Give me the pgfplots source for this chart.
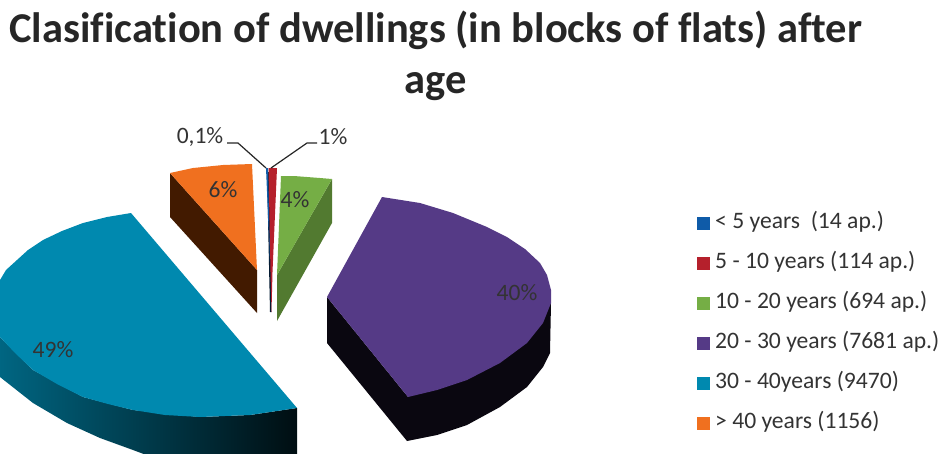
\documentclass[border=0pt]{standalone}
\usepackage{pgfplots}
\pgfplotsset{compat=1.18}
\usepackage{fontspec}
\setmainfont{Carlito}[Ligatures=NoCommon]
\definecolor{cBlue}{HTML}{0F5BA8}
\definecolor{cRed}{HTML}{B5202C}
\definecolor{cGreen}{HTML}{75AE45}
\definecolor{cPurple}{HTML}{553A86}
\definecolor{cTeal}{HTML}{0089AF}
\definecolor{cOrange}{HTML}{F0701F}
\begin{document}
\begin{tikzpicture}
\useasboundingbox (0,0) rectangle (941pt,453pt);
\begin{axis}[
  scale only axis,
  width=941pt, height=453pt,
  xmin=0, xmax=941, ymin=0, ymax=453,
  y dir=reverse,
  hide axis,
  title={Clasification of dwellings (in blocks of flats) after\\age},
  title style={at={(0.463,1)}, anchor=north, yshift=-13pt, align=center,
    font=\fontsize{42.5}{51}\selectfont\bfseries, text=black!85},
  legend cell align=left,
  legend style={at={(axis cs:697,212)}, anchor=north west, draw=none, fill=none,
    inner sep=0pt, row sep=18pt, font=\fontsize{23.6}{23.6}\selectfont, text=black!80,
    nodes={inner sep=0pt, text height=16pt, text depth=6pt}},
  legend image code/.code={\fill[#1] (0pt,-6.5pt) rectangle (13pt,6.5pt); \path (18pt,0pt);},
]
% sliver sides
\addplot[forget plot, draw=none, fill=black!70!cBlue] coordinates {(267,172) (270,172) (271.5,312) (270,312)} -- cycle;
% < 5 years
\addplot[draw=none, fill=cBlue] coordinates {(266,168) (268,168) (270,262)} -- cycle;
\addlegendentry{< 5 years\ \ (14 ap.)}
% 5 - 10 years
\addplot[draw=none, fill=cRed] coordinates {(268.5,168) (277,168) (272.5,272) (271.5,312) (270.5,272)} -- cycle;
\addlegendentry{5 - 10 years (114 ap.)}
% 10 - 20 years
\addplot[forget plot, draw=none, fill=black!30!cGreen] coordinates {(332,179) (332,223) (277,321) (277,275)} -- cycle;
\addplot[draw=none, fill=cGreen] coordinates {(281,176) (294,176) (307,177) (320,178) (332,179) (277,275)} -- cycle;
\addlegendentry{10 - 20 years (694 ap.)}
% 20 - 30 years
\addplot[forget plot, draw=none, fill=black!88!cPurple] coordinates {
  (327,297) (327,343) (407,441) (437,435) (467,425) (500,407) (527,387) (543,367)
  (550,353) (551,303) (408,397)} -- cycle;
\addplot[draw=none, fill=cPurple] coordinates {
  (382,197) (420,203) (453,213) (487,227) (507,237) (525,249) (540,263) (547,275) (551,290)
  (551,303) (543,323) (527,343) (500,363) (467,380) (437,390) (408,397) (327,297)} -- cycle;
\addlegendentry{20 - 30 years (7681 ap.)}
% 30 - 40 years
\addplot[forget plot, draw=none, left color=cTeal!75!black, middle color=cTeal!50!black, right color=cTeal!10!black] coordinates {
  (-4,320) (-4,372) (0,377) (33,403) (67,423) (100,438) (133,450) (165,462) (297,462)
  (297,408) (250,415) (200,417) (133,410) (83,397) (33,370) (0,337)} -- cycle;
\addplot[draw=none, fill=cTeal] coordinates {
  (131,213) (107,217) (83,223) (62,231) (43,240) (28,250) (17,260) (6,270) (0,280) (-4,300) (-4,320)
  (0,337) (15,353) (33,370) (57,384) (83,397) (108,404) (133,410) (165,415) (200,417) (250,415) (297,408)} -- cycle;
\addlegendentry{30 - 40years (9470)}
% > 40 years
\addplot[forget plot, draw=none, fill={rgb,255:red,66;green,26;blue,0}] coordinates {(170,173) (170,217) (257,313) (257,270)} -- cycle;
\addplot[draw=none, fill=cOrange] coordinates {(170,173) (193,168) (223,165) (252,164) (257,270)} -- cycle;
\addlegendentry{> 40 years (1156)}
% leader lines
\addplot[forget plot, black!85, line width=1.2pt] coordinates {(227,143) (238,143) (266,168)};
\addplot[forget plot, black!85, line width=1.2pt] coordinates {(317,143) (307,143) (271,168)};
% percentages
\begin{scope}[every node/.style={font=\fontsize{23.5}{23.5}\selectfont, text=black!80}]
\node at (axis cs:200,137) {0,1\%};
\node at (axis cs:333,137) {1\%};
\node at (axis cs:223,190) {6\%};
\node at (axis cs:295,200) {4\%};
\node at (axis cs:517,293) {40\%};
\node at (axis cs:53,350) {49\%};
\end{scope}
\end{axis}
\end{tikzpicture}
\end{document}
